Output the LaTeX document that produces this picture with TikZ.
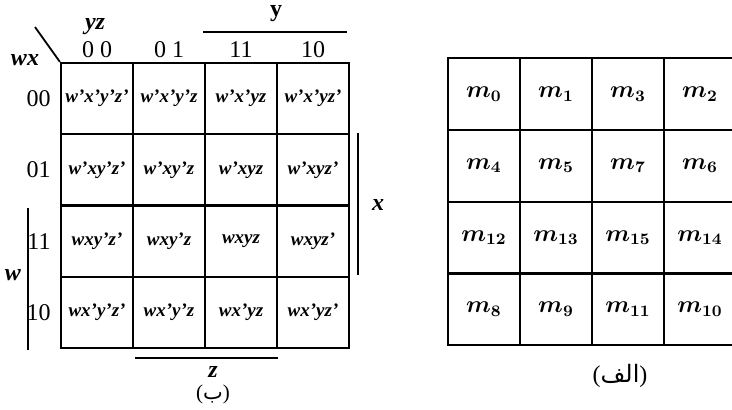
\documentclass[tikz,border=0pt]{standalone}
\usepackage{fontspec}
\setmainfont{Liberation Serif}
\newfontfamily\arabicfont[Script=Arabic]{DejaVu Sans}
\TeXXeTstate=1
\usetikzlibrary{positioning}

\begin{document}
\begin{tikzpicture}[
  x=0.5pt, y=-0.5pt,
  cell/.style={rectangle, draw, line width=1.1pt, inner sep=0pt, minimum width=36pt, minimum height=35.6pt, font=\fontsize{9.5}{11}\selectfont\bfseries\itshape},
  mcell/.style={rectangle, draw, line width=1.1pt, inner sep=0pt, minimum width=36pt, minimum height=35.9pt, font=\fontsize{11.5}{13}\selectfont\boldmath},
  lbl/.style={inner sep=0pt, font=\fontsize{12}{14}\selectfont},
  var/.style={inner sep=0pt, font=\fontsize{12}{14}\selectfont\bfseries\itshape},
  bar/.style={line width=0.9pt}
]
\useasboundingbox (0,0) rectangle (732,409);
\clip (0,0) rectangle (732,409);

% Map (b): product terms
\node[cell] (k00) at (97,98.6)  {w'x'y'z'};
\node[cell] (k01) at (169,98.6) {w'x'y'z};
\node[cell] (k02) at (241,98.6) {w'x'yz};
\node[cell] (k03) at (313,98.6) {w'x'yz'};
\node[cell] (k10) at (97,169.9)  {w'xy'z'};
\node[cell] (k11) at (169,169.9) {w'xy'z};
\node[cell] (k12) at (241,169.9) {w'xyz};
\node[cell] (k13) at (313,169.9) {w'xyz'};
\node[cell] (k20) at (97,241.1)  {wxy'z'};
\node[cell] (k21) at (169,241.1) {wxy'z};
\node[cell] (k22) at (241,241.1) {wxyz};
\node[cell] (k23) at (313,241.1) {wxyz'};
\node[cell] (k30) at (97,312.4)  {wx'y'z'};
\node[cell] (k31) at (169,312.4) {wx'y'z};
\node[cell] (k32) at (241,312.4) {wx'yz};
\node[cell] (k33) at (313,312.4) {wx'yz'};

% headers
\coordinate (diag) at (35,27);
\draw[bar] (diag) -- (k00.north west);
\node[var] (yz) at (95,27) {yz};
\node[var] (wx) at (25,60) {wx};
\node[lbl, above=2pt of k00] (c00) {0 0};
\node[lbl, above=2pt of k01] (c01) {0 1};
\node[lbl, above=2pt of k02] (c11) {11};
\node[lbl, above=2pt of k03] (c10) {10};
\node[lbl, left=4.5pt of k00] (r00) {00};
\node[lbl, left=4.5pt of k10] (r01) {01};
\node[lbl, left=4.5pt of k20] (r11) {11};
\node[lbl, left=4.5pt of k30] (r10) {10};

% brackets
\draw[bar] (203,32) -- (347,32);
\node[lbl, font=\fontsize{12}{14}\selectfont\bfseries] (yv) at (276,14) {y};
\draw[bar] (358,133) -- (358,275);
\node[var] (xv) at (378,205) {x};
\draw[bar] (28,208) -- (28,350);
\node[var] (wv) at (13,275) {w};
\draw[bar] (135,358) -- (278,358);
\node[var] (zv) at (213,372) {z};
\node[lbl, font=\fontsize{10.5}{12}\selectfont] (capb) at (213,394) {({\arabicfont ب})};

% Map (a): minterms
\node[mcell] (m0) at (484,94)  {$m_{0}$};
\node[mcell] (m1) at (556,94)  {$m_{1}$};
\node[mcell] (m3) at (628,94)  {$m_{3}$};
\node[mcell] (m2) at (700,94)  {$m_{2}$};
\node[mcell] (m4) at (484,165.8) {$m_{4}$};
\node[mcell] (m5) at (556,165.8) {$m_{5}$};
\node[mcell] (m7) at (628,165.8) {$m_{7}$};
\node[mcell] (m6) at (700,165.8) {$m_{6}$};
\node[mcell] (m12) at (484,237.6) {$m_{12}$};
\node[mcell] (m13) at (556,237.6) {$m_{13}$};
\node[mcell] (m15) at (628,237.6) {$m_{15}$};
\node[mcell] (m14) at (700,237.6) {$m_{14}$};
\node[mcell] (m8) at (484,309.4)  {$m_{8}$};
\node[mcell] (m9) at (556,309.4)  {$m_{9}$};
\node[mcell] (m11) at (628,309.4) {$m_{11}$};
\node[mcell] (m10) at (700,309.4) {$m_{10}$};

\node[lbl] (capa) at (620,376) {({\arabicfont\beginR الف\endR})};

\end{tikzpicture}
\end{document}
